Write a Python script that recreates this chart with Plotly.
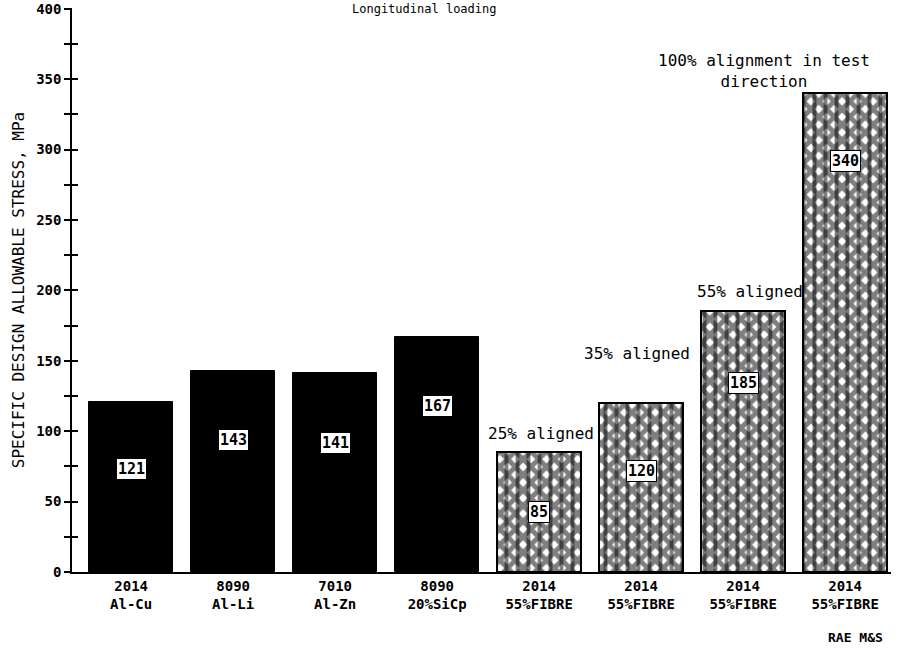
import plotly.graph_objects as go

materials = ["2014<br>Al-Cu", "8090<br>Al-Li", "7010<br>Al-Zn", "8090<br>20%SiCp",
             "2014<br>55%FIBRE", "2014<br>55%FIBRE", "2014<br>55%FIBRE", "2014<br>55%FIBRE"]
stress = [121, 143, 141, 167, 85, 120, 185, 340]
is_fibre = [False, False, False, False, True, True, True, True]
label_height = [73, 94, 91.5, 118, 42.5, 72, 134, 292]
notes = ["25% aligned", "35% aligned", "55% aligned", "100% alignment in test<br>direction"]
note_x = [4.02, 4.96, 6.07, 6.2]
note_y = [98, 155, 199, 356]

FONT = "DejaVu Sans Mono"
xs = list(range(len(materials)))

solid_x = [x for x, f in zip(xs, is_fibre) if not f]
solid_y = [v for v, f in zip(stress, is_fibre) if not f]
fib_x = [x for x, f in zip(xs, is_fibre) if f]
fib_y = [v for v, f in zip(stress, is_fibre) if f]

fig = go.Figure()
fig.add_trace(go.Bar(x=solid_x, y=solid_y, width=0.83,
                     marker=dict(color="black", line=dict(color="black", width=1)),
                     showlegend=False, hoverinfo="skip"))
fig.add_trace(go.Bar(x=fib_x, y=fib_y, width=0.83,
                     marker=dict(color="white", line=dict(color="black", width=2),
                                 pattern=dict(shape="x", fgcolor="black", bgcolor="white",
                                              size=11, solidity=0.7)),
                     showlegend=False, hoverinfo="skip"))
fig.add_trace(go.Bar(x=fib_x, y=fib_y, width=0.83,
                     marker=dict(color="rgba(0,0,0,0)", line=dict(color="black", width=2),
                                 pattern=dict(shape="|", fgcolor="black", bgcolor="rgba(0,0,0,0)",
                                              size=11, solidity=0.35, fillmode="overlay")),
                     showlegend=False, hoverinfo="skip"))

# duplicate axis so that the y ticks cross the axis line
fig.add_trace(go.Scatter(x=[0], y=[0], yaxis="y2", mode="markers",
                         marker=dict(opacity=0), showlegend=False, hoverinfo="skip"))

for x, v, h in zip(xs, stress, label_height):
    fig.add_annotation(x=x, y=h, text=str(v), showarrow=False,
                       font=dict(family=FONT, size=15, color="black", weight="bold"),
                       bgcolor="white", bordercolor="black", borderwidth=1, borderpad=1)

for t, x, y in zip(notes, note_x, note_y):
    fig.add_annotation(x=x, y=y, text=t, showarrow=False,
                       font=dict(family=FONT, size=16, color="black"))

fig.add_annotation(xref="paper", yref="paper", x=0.43, y=1, yanchor="top", yshift=8,
                   text="Longitudinal loading", showarrow=False,
                   font=dict(family=FONT, size=12, color="black"))
fig.add_annotation(xref="paper", yref="paper", x=0.993, y=-0.1, xanchor="right",
                   yanchor="top", text="RAE M&S", showarrow=False,
                   font=dict(family=FONT, size=13, color="black", weight="bold"))

fig.update_layout(
    width=909, height=650,
    margin=dict(l=72, r=18, t=8, b=78),
    paper_bgcolor="white", plot_bgcolor="white",
    barmode="overlay", bargap=0,
    font=dict(family=FONT, size=14, color="black"),
    xaxis=dict(range=[-0.58, 7.45], tickmode="array", tickvals=xs, ticktext=materials,
               showline=True, linecolor="black", linewidth=1.5, ticks="",
               showgrid=False, zeroline=False, automargin=False,
               tickfont=dict(family=FONT, size=14, weight="bold")),
    yaxis=dict(range=[0, 400.5], tickvals=[0, 50, 100, 150, 200, 250, 300, 350, 400],
               showline=True, linecolor="black", linewidth=1.5, automargin=False,
               ticks="outside", ticklen=6, tickwidth=1.5, tickcolor="black",
               minor=dict(dtick=25, ticks="outside", ticklen=6, tickwidth=1.5, tickcolor="black"),
               showgrid=False, zeroline=False,
               tickfont=dict(family=FONT, size=14, weight="bold"),
               title=dict(text="SPECIFIC DESIGN ALLOWABLE STRESS, MPa",
                          font=dict(family=FONT, size=16), standoff=8)),
    yaxis2=dict(range=[0, 400.5], dtick=50, overlaying="y", side="left", anchor="x",
                ticks="inside", ticklen=6, tickwidth=1.5, tickcolor="black",
                minor=dict(dtick=25, ticks="inside", ticklen=6, tickwidth=1.5, tickcolor="black"),
                showticklabels=False, showgrid=False, zeroline=False, showline=False,
                automargin=False),
)

fig.write_html("out.html")
